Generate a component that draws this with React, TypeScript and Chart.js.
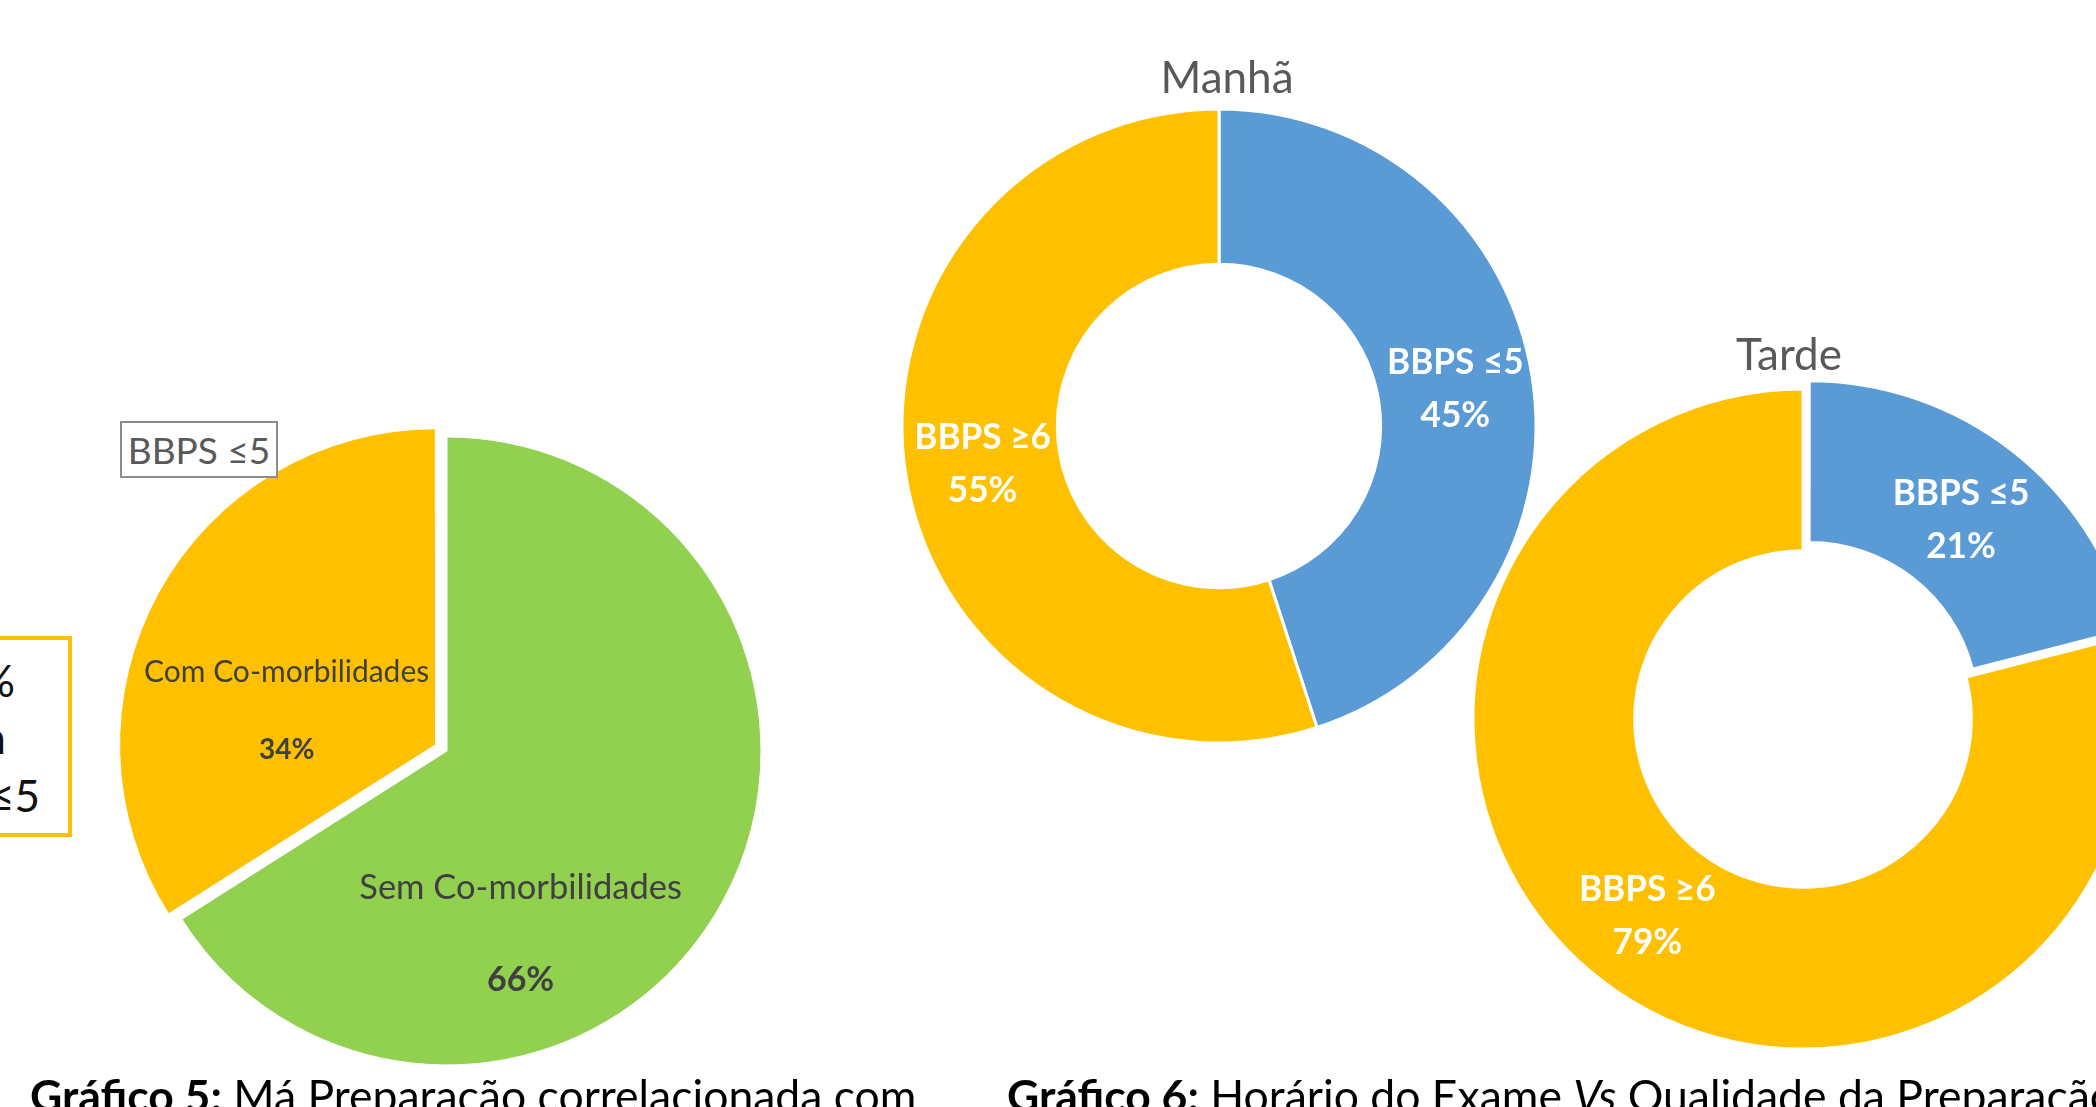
import React, { useEffect, useRef } from "react";
import { Chart, registerables } from "chart.js";

Chart.register(...registerables);

// ---------- data ----------
const PIE_CATEGORIES = ["Sem Co-morbilidades", "Com Co-morbilidades"];
const PIE_VALUES = [66, 34];
const PIE_COLORS = ["#92D050", "#FFC000"];

const DONUT_CATEGORIES = ["BBPS ≤5", "BBPS ≥6"];
const MANHA_VALUES = [45, 55];
const TARDE_VALUES = [21, 79];
const DONUT_COLORS = ["#5B9BD5", "#FFC000"];

const MANHA_TITLE = "Manhã";
const TARDE_TITLE = "Tarde";
const PIE_TAG = "BBPS ≤5";
const SIDE_BOX_LINES = ["34%", "com", "BBPS ≤5"];

const FONT = "Lato, 'Open Sans', sans-serif";

type LabelStyle = { font1: string; font2: string; color: string; gap: number; dx: number; dy: number; sx: number };

function makeLabelPlugin(styles: LabelStyle[]) {
  return {
    id: "sliceLabels",
    afterDatasetsDraw(chart: any) {
      const meta = chart.getDatasetMeta(0);
      const values = chart.data.datasets[0].data as number[];
      const total = values.reduce((a: number, b: number) => a + b, 0);
      const ctx = chart.ctx;
      meta.data.forEach((arc: any, i: number) => {
        const s = styles[i];
        const c = arc.getCenterPoint();
        const x = c.x + s.dx;
        const y = c.y + s.dy;
        ctx.save();
        ctx.translate(x, y);
        ctx.scale(s.sx, 1);
        ctx.textAlign = "center";
        ctx.textBaseline = "middle";
        ctx.fillStyle = s.color;
        ctx.font = s.font1;
        ctx.fillText(String(chart.data.labels[i]), 0, -s.gap / 2);
        ctx.font = s.font2;
        ctx.fillText(Math.round((values[i] / total) * 100) + "%", 0, s.gap / 2);
        ctx.restore();
      });
    },
  };
}

type RingProps = {
  cx: number;
  cy: number;
  size: number;
  radius: number;
  cutout: string;
  labels: string[];
  values: number[];
  colors: string[];
  offsets: number[];
  borderWidth: number;
  styles: LabelStyle[];
};

function Ring(p: RingProps) {
  const ref = useRef<HTMLCanvasElement | null>(null);
  useEffect(() => {
    if (!ref.current) return;
    const chart = new Chart(ref.current, {
      type: "doughnut",
      data: {
        labels: p.labels,
        datasets: [
          {
            data: p.values,
            backgroundColor: p.colors,
            borderColor: "#ffffff",
            borderWidth: p.borderWidth,
            offset: p.offsets,
          },
        ],
      },
      options: {
        responsive: false,
        maintainAspectRatio: false,
        devicePixelRatio: 1,
        animation: false,
        radius: p.radius,
        cutout: p.cutout,
        layout: { padding: 0 },
        plugins: { legend: { display: false }, tooltip: { enabled: false } },
      } as any,
      plugins: [makeLabelPlugin(p.styles)],
    });
    return () => chart.destroy();
  }, []);
  return (
    <canvas
      ref={ref}
      width={p.size}
      height={p.size}
      style={{
        position: "absolute",
        left: p.cx - p.size / 2,
        top: p.cy - p.size / 2,
        width: p.size,
        height: p.size,
      }}
    />
  );
}

const pieStyles: LabelStyle[] = [
  { font1: `34.5px ${FONT}`, font2: `bold 34px ${FONT}`, color: "#404040", gap: 92, dx: -64, dy: 107, sx: 1 },
  { font1: `30px ${FONT}`, font2: `bold 28px ${FONT}`, color: "#404040", gap: 78, dx: 0, dy: 48, sx: 1 },
];
const manhaStyles: LabelStyle[] = [
  { font1: `bold 37px ${FONT}`, font2: `bold 37px ${FONT}`, color: "#ffffff", gap: 53, dx: 0, dy: 0, sx: 0.95 },
  { font1: `bold 37px ${FONT}`, font2: `bold 37px ${FONT}`, color: "#ffffff", gap: 53, dx: 0, dy: 0, sx: 0.95 },
];
const tardeStyles: LabelStyle[] = [
  { font1: `bold 37px ${FONT}`, font2: `bold 37px ${FONT}`, color: "#ffffff", gap: 53, dx: -7, dy: 13, sx: 0.95 },
  { font1: `bold 37px ${FONT}`, font2: `bold 37px ${FONT}`, color: "#ffffff", gap: 53, dx: -3, dy: 0, sx: 0.95 },
];

export default function App() {
  const abs = (s: React.CSSProperties): React.CSSProperties => ({ position: "absolute", whiteSpace: "nowrap", ...s });
  return (
    <div
      style={{
        position: "fixed",
        left: 0,
        top: 0,
        width: 2096,
        height: 1107,
        overflow: "hidden",
        background: "#ffffff",
        fontFamily: FONT,
      }}
    >
      {/* clipped side box */}
      <div
        style={abs({
          left: -300,
          top: 636,
          width: 372,
          height: 201,
          boxSizing: "border-box",
          border: "4px solid #FFC000",
        })}
      />
      {[0, 1, 2].map((i) => {
        const rights = [15, 6, 40];
        const tops = [658, 715, 773];
        return (
          <div
            key={i}
            style={abs({
              right: 2096 - rights[i],
              top: tops[i],
              fontSize: 44,
              lineHeight: "44px",
              color: "#111111",
            })}
          >
            {SIDE_BOX_LINES[i]}
          </div>
        );
      })}

      <Ring
        cx={447}
        cy={751}
        size={760}
        radius={314}
        cutout="0%"
        labels={PIE_CATEGORIES}
        values={PIE_VALUES}
        colors={PIE_COLORS}
        offsets={[0, 52]}
        borderWidth={1}
        styles={pieStyles}
      />
      <div
        style={abs({
          left: 120,
          top: 421,
          width: 158,
          height: 57,
          boxSizing: "border-box",
          border: "2px solid #8c8c8c",
          background: "#ffffff",
          color: "#595959",
          fontSize: 37,
          lineHeight: "53px",
          textAlign: "center",
        })}
      >
        {PIE_TAG}
      </div>

      <Ring
        cx={1219}
        cy={426}
        size={760}
        radius={317}
        cutout="51%"
        labels={DONUT_CATEGORIES}
        values={MANHA_VALUES}
        colors={DONUT_COLORS}
        offsets={[0, 0]}
        borderWidth={3}
        styles={manhaStyles}
      />
      <Ring
        cx={1803}
        cy={719}
        size={760}
        radius={330}
        cutout="51%"
        labels={DONUT_CATEGORIES}
        values={TARDE_VALUES}
        colors={DONUT_COLORS}
        offsets={[40, 0]}
        borderWidth={3}
        styles={tardeStyles}
      />

      <div style={abs({ left: 1227, top: 54, transform: "translateX(-50%)", fontSize: 44, lineHeight: "44px", color: "#595959" })}>
        {MANHA_TITLE}
      </div>
      <div style={abs({ left: 1789, top: 331, transform: "translateX(-50%)", fontSize: 44, lineHeight: "44px", color: "#595959" })}>
        {TARDE_TITLE}
      </div>

      <div style={abs({ left: 30, top: 1073, fontSize: 44.5, lineHeight: "44px", color: "#000000" })}>
        <b>Gráfico 5:</b> Má Preparação correlacionada com
      </div>
      <div style={abs({ left: 1007, top: 1073, fontSize: 44.5, lineHeight: "44px", color: "#000000" })}>
        <b>Gráfico 6:</b> Horário do Exame <i>Vs</i> Qualidade da Preparação
      </div>
    </div>
  );
}
